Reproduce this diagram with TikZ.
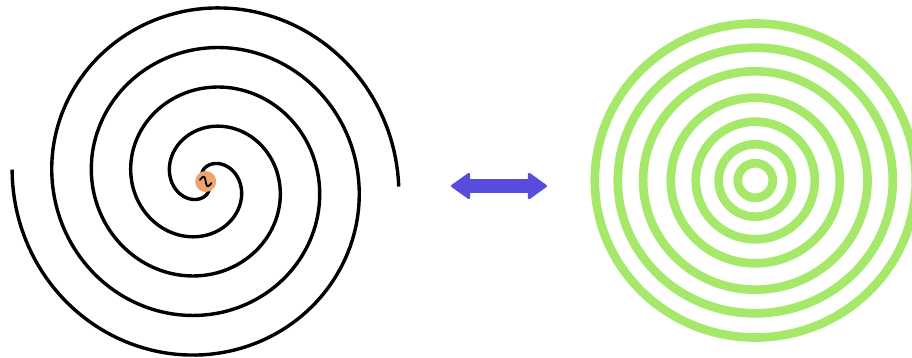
\documentclass[tikz,border=0pt]{standalone}
\usetikzlibrary{arrows.meta}
\definecolor{coilgreen}{RGB}{166,233,106}
\definecolor{arrowblue}{RGB}{88,76,220}
\definecolor{srcorange}{RGB}{236,164,112}

\begin{document}
\begin{tikzpicture}[
    x=1pt, y=1pt,
    coil/.style={line width=3.4pt, draw=black},
    ring/.style={line width=8.7pt, draw=coilgreen},
    source/.style={circle, fill=srcorange, minimum size=21pt, inner sep=0pt},
    wave/.style={line width=1.8pt, draw=black, line cap=round},
    dblarrow/.style={line width=14pt, draw=arrowblue,
        {Triangle[width=28pt,length=20pt,line width=2.5pt,round]}-{Triangle[width=28pt,length=20pt,line width=2.5pt,round]}},
]
\useasboundingbox (0,0) rectangle (912,358);

% spiral coil with two arms
\coordinate (coil) at (205.5,176.5);
\draw[coil, shift={(coil)}] plot[domain=-1.5:855, samples=400]
    ({(193-0.2208*\x)*cos(\x)}, {(193-0.2208*\x)*sin(\x)});
\draw[coil, shift={(coil)}] plot[domain=176.5:1035, samples=400]
    ({(193-0.2208*(\x-180))*cos(\x)}, {(193-0.2208*(\x-180))*sin(\x)});

% ac source in the middle
\node[source] (src) at (205.7,176.5) {};
\draw[wave, shift={(src.center)}, rotate=-15] plot[domain=0:360, samples=40]
    ({-6+\x/30}, {4*sin(\x)});

% concentric rings
\coordinate (rings) at (755.3,177.5);
\foreach \rx/\ry in {160.5/157, 137.5/132.8, 112.2/109.2, 84.5/82.8, 59.5/58.8, 36.7/36.2, 17.5/17.3}
    \draw[ring] (rings) ellipse [x radius=\rx, y radius=\ry];

\coordinate (arrL) at (451,172);
\coordinate (arrR) at (547,172);
\draw[dblarrow] (arrL) -- (arrR);

\end{tikzpicture}
\end{document}
